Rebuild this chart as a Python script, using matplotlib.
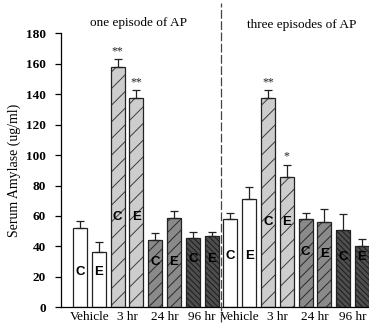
import matplotlib
matplotlib.use("Agg")
import matplotlib.pyplot as plt
import matplotlib.transforms as mtransforms
import numpy as np

# Serum amylase (ug/ml), mean and upper SEM, control (C) / experimental (E)
groups = ["one episode of AP", "three episodes of AP"]
timepoints = ["Vehicle", "3 hr", "24 hr", "96 hr"]
bar_tags = ["C", "E"]

one_episode_mean = [52, 36, 158, 137.5, 44, 58.5, 45.5, 47]
one_episode_err = [4.5, 7, 5, 5, 4.5, 5, 4, 2.5]
three_episode_mean = [58, 71, 137.5, 85.5, 58, 56, 51, 40]
three_episode_err = [4, 8, 5, 8, 4, 8.5, 10.5, 5]
significance = ["", "", "**", "**", "", "", "", "",
                "", "", "**", "*", "", "", "", ""]

mean = one_episode_mean + three_episode_mean
err = one_episode_err + three_episode_err

plt.rcParams["font.family"] = ["Liberation Serif", "DejaVu Serif"]
plt.rcParams["hatch.linewidth"] = 0.7

fig = plt.figure(figsize=(3.69, 3.25), dpi=100)
ax = fig.add_axes([0.1653, 0.0545, 0.8347, 0.843])

# style per time point: fill colour, hatch colour, hatch pattern
styles = [
    ("white", "black", ""),
    ("#cdcdcd", "#3c3c3c", "//"),
    ("#8a8a8a", "#2a2a2a", "///"),
    ("#4e4e4e", "#1c1c1c", "\\\\\\\\\\\\"),
]

# heights for the C / E letters inside the bars
tag_y = [23, 23, 59, 59, 30, 30, 32, 32,
         34, 34, 56, 56, 36, 35, 33, 33]

x = np.arange(len(mean))
width = 0.745
for i, (xi, m, e) in enumerate(zip(x, mean, err)):
    fc, hc, hatch = styles[(i % 8) // 2]
    ax.bar(xi, m, width, color=fc, edgecolor=hc, hatch=hatch, linewidth=0, zorder=2)
    ax.bar(xi, m, width, fill=False, edgecolor="#222222", linewidth=0.9, zorder=3)
    ax.errorbar(xi, m, yerr=[[0], [e]], fmt="none", ecolor="#222222",
                elinewidth=0.9, capsize=3.2, capthick=0.9, zorder=4)
    ax.text(xi, tag_y[i], bar_tags[i % 2], ha="center", va="center",
            fontsize=9.5, fontweight="bold", family="Liberation Sans",
            color="black", zorder=5)
    if significance[i]:
        ax.text(xi, m + e + 1.5, significance[i], ha="center", va="bottom",
                fontsize=8.5, color="#222222", zorder=5)

ax.set_xlim(-1.01, 15.37)
ax.set_ylim(0, 180)
ax.set_yticks(np.arange(0, 181, 20))
ax.tick_params(axis="y", labelsize=9.5, direction="out", length=4, width=0.9, pad=7)
for t in ax.get_yticklabels():
    t.set_fontweight("bold")

centers = [(2 * k + 0.5) for k in range(8)]
ax.set_xticks(centers)
ax.set_xticklabels(timepoints * 2, fontsize=9.5)
ax.tick_params(axis="x", length=0, pad=3)

ax.spines["top"].set_visible(False)
ax.spines["right"].set_visible(False)
ax.spines["left"].set_linewidth(0.9)
ax.spines["bottom"].set_linewidth(0.9)

ax.set_ylabel("Serum Amylase (ug/ml)", fontsize=10)
ax.yaxis.set_label_coords(-0.13, 0.5)

# divider between the two experiments
trans = mtransforms.blended_transform_factory(ax.transData, ax.transAxes)
ax.plot([7.5, 7.5], [-0.055, 1.11], transform=trans, clip_on=False,
        color="#444444", linewidth=0.9, dashes=(7, 2), zorder=6)

ax.text(3.1, 1.037, groups[0], transform=trans, ha="center", va="center", fontsize=9.5)
ax.text(11.8, 1.03, groups[1], transform=trans, ha="center", va="center", fontsize=9.5)

fig.savefig("out.png", dpi=100)
